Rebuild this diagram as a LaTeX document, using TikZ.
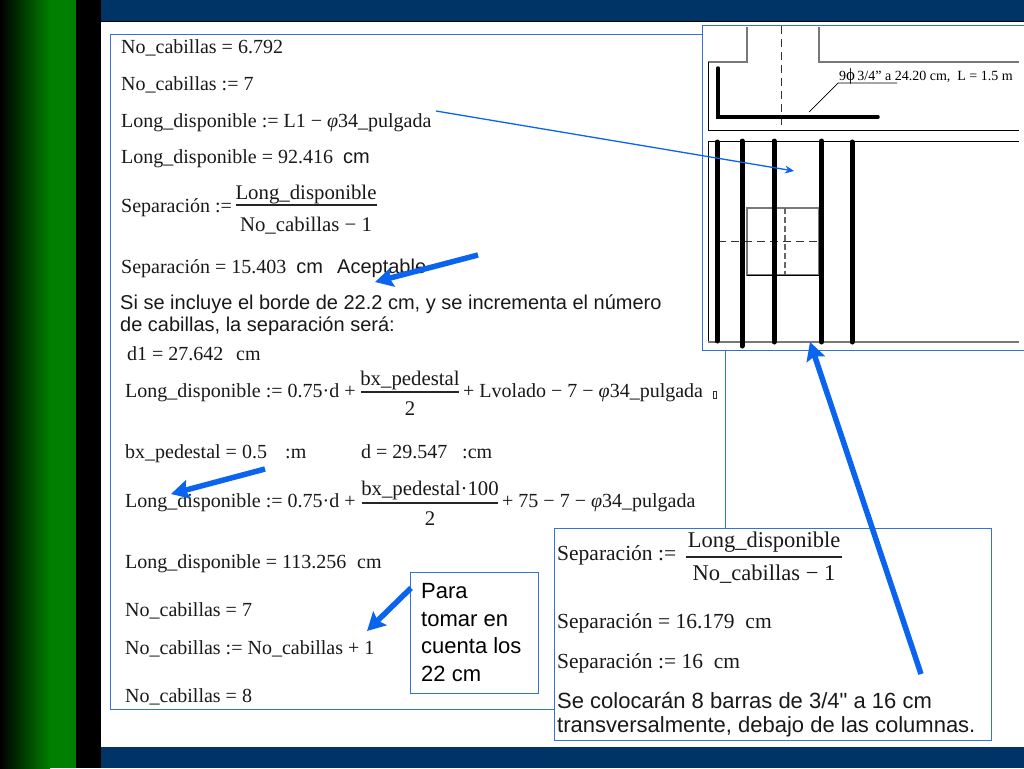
\documentclass[tikz,border=0pt]{standalone}
\usepackage{fontspec}
\setmainfont{Liberation Serif}
\newfontfamily\arialf{Liberation Sans}
\usetikzlibrary{arrows.meta}
\definecolor{navybar}{RGB}{0,51,102}
\definecolor{greenbar}{RGB}{0,128,0}
\definecolor{frameblue}{RGB}{50,115,215}
\definecolor{arrowblue}{RGB}{10,100,240}
\definecolor{graybar}{RGB}{120,120,120}
\newcommand{\fphi}{{\itshape φ}}
\tikzset{
  x=1pt,y=-1pt,
  mathtxt/.style={anchor=base west,inner sep=0pt,font=\fontsize{20}{22}\selectfont,text=black!90},
  ctr/.style={mathtxt,anchor=base,font=\fontsize{20.8}{22}\selectfont},
  boxmath/.style={mathtxt,font=\fontsize{21.5}{24}\selectfont},
  boxctr/.style={mathtxt,anchor=base,font=\fontsize{22.5}{24}\selectfont},
  sanstxt/.style={anchor=base west,inner sep=0pt,font=\arialf\fontsize{20}{22}\selectfont,text=black!90},
  boxsans/.style={sanstxt,font=\arialf\fontsize{22}{24}\selectfont},
  noteTxt/.style={anchor=base west,inner sep=0pt,font=\arialf\fontsize{22}{24}\selectfont,text=black},
  framebox/.style={draw=frameblue,line width=1pt,fill=white},
  thinarrow/.style={draw=arrowblue,line width=1.3pt,-{Stealth[length=9pt,width=8pt]}},
  thickarrow/.style={draw=arrowblue,line width=5.5pt,-{Stealth[length=18pt,width=19pt,inset=3pt]}},
  barline/.style={line width=1.2pt,black!85},
  rebar/.style={line width=5pt,black,line cap=round},
  grayline/.style={line width=1.5pt,graybar},
  blackline/.style={line width=1pt,black},
  dashline/.style={line width=1pt,black!80,dash pattern=on 8pt off 5pt},
}
\begin{document}
\begin{tikzpicture}
\useasboundingbox (0,0) rectangle (1024,768);
% background
\fill[white] (0,0) rectangle (1024,768);
\shade[left color=black,right color=greenbar,shading angle=90] (0,0) rectangle (50,768);
\fill[greenbar] (50,0) rectangle (76,768);
\fill[black] (76,0) rectangle (101,768);
\fill[navybar] (101,0) rectangle (1024,21);
\fill[navybar] (101,747) rectangle (1024,768);
\draw[black,line width=1pt] (101,21.5) -- (1024,21.5);
% main frame
\node[framebox,minimum width=615pt,minimum height=675pt,anchor=north west,inner sep=0pt] (mainbox) at (110,34) {};
% main text
\node[mathtxt] (t1) at (121,53) {No\_cabillas = 6.792};
\node[mathtxt] (t2) at (121,90) {No\_cabillas := 7};
\node[mathtxt] (t3) at (121,127) {Long\_disponible := L1 − \fphi34\_pulgada};
\node[mathtxt] (t4) at (121,163) {Long\_disponible = 92.416 \ {\arialf cm}};
\node[mathtxt] (t5) at (121,212) {Separación :=};
\node[ctr] (t5n) at (306,199) {Long\_disponible};
\node[ctr] (t5d) at (306,231) {No\_cabillas − 1};
\draw[barline] (236,205) -- (377,205);
\node[mathtxt] (t6) at (121,273) {Separación = 15.403 \ {\arialf cm}};
\node[sanstxt] (t6b) at (337,273) {Aceptable};
\node[sanstxt] (t7) at (120,309) {Si se incluye el borde de 22.2 cm, y se incrementa el número};
\node[sanstxt] (t8) at (120,331) {de cabillas, la separación será:};
\node[mathtxt] (t9) at (127,360) {d1 = 27.642};
\node[mathtxt] (t9b) at (236,360) {cm};
\node[mathtxt] (t10) at (125,397) {Long\_disponible := 0.75·d +};
\node[ctr] (t10n) at (410,385) {bx\_pedestal};
\node[ctr] (t10d) at (410,415) {2};
\draw[barline] (361,392) -- (459,392);
\node[mathtxt] (t10b) at (463,397) {+ Lvolado − 7 − \fphi34\_pulgada};
\draw[line width=.6pt,black!80] (713,391) rectangle (716,398);
\node[mathtxt] (t11) at (125,458) {bx\_pedestal = 0.5};
\node[mathtxt] (t11b) at (285,458) {:m};
\node[mathtxt] (t11c) at (361,458) {d = 29.547};
\node[mathtxt] (t11d) at (462,458) {:cm};
\node[mathtxt] (t12) at (125,507) {Long\_disponible := 0.75·d +};
\node[ctr] (t12n) at (430,495) {bx\_pedestal·100};
\node[ctr] (t12d) at (430,525) {2};
\draw[barline] (362,503) -- (498,503);
\node[mathtxt] (t12b) at (502,507) {+ 75 − 7 − \fphi34\_pulgada};
\node[mathtxt] (t13) at (125,568) {Long\_disponible = 113.256};
\node[mathtxt] (t13b) at (357,568) {cm};
\node[mathtxt] (t14) at (125,616) {No\_cabillas = 7};
\node[mathtxt] (t15) at (125,654) {No\_cabillas := No\_cabillas + 1};
\node[mathtxt] (t16) at (125,702) {No\_cabillas = 8};
% note box
\node[framebox,minimum width=128pt,minimum height=121pt,anchor=north west,inner sep=0pt] (notebox) at (410,572) {};
\node[noteTxt] (n1) at (421,598) {Para};
\node[noteTxt] (n2) at (421,626) {tomar en};
\node[noteTxt] (n3) at (421,653) {cuenta los};
\node[noteTxt] (n4) at (421,681) {22 cm};
% right-bottom box
\node[framebox,minimum width=437pt,minimum height=212pt,anchor=north west,inner sep=0pt] (sepbox) at (554,528) {};
\node[boxmath] (s1) at (557,560) {Separación :=};
\node[boxctr] (s1n) at (764,547) {Long\_disponible};
\node[boxctr] (s1d) at (764,580) {No\_cabillas − 1};
\draw[barline] (686,557) -- (842,557);
\node[boxmath] (s2) at (557,628) {Separación = 16.179 \ cm};
\node[boxmath] (s3) at (557,668) {Separación := 16 \ cm};
\node[boxsans] (s4) at (557,708) {Se colocarán 8 barras de 3/4" a 16 cm};
\node[boxsans] (s5) at (557,732) {transversalmente, debajo de las columnas.};
% drawing frame
\node[framebox,minimum width=330pt,minimum height=325pt,anchor=north west,inner sep=0pt] (drawbox) at (702,25) {};
% section view
\draw[grayline] (747,27) -- (747,62) -- (708,62);
\draw[grayline] (819,27) -- (819,62) -- (1019,62);
\draw[blackline] (708,62) -- (708,130) -- (1019,130);
\draw[dashline] (781,26) -- (781,130);
\draw[line width=3.5pt,black,line cap=round,line join=miter] (718,68) -- (718,117) -- (878,117);
\draw[line width=.7pt,black] (809,112) -- (838,83) -- (897,83);
\node[anchor=base west,inner sep=0pt,font=\fontsize{14}{16}\selectfont] (lbl) at (839,81) {9{\fontsize{17}{17}\selectfont ϕ}\,3/4" a 24.20 cm, \ L = 1.5 m};
% plan view
\draw[blackline] (708,342) -- (708,141) -- (1019,141);
\draw[line width=2pt,graybar] (708,342) -- (1019,342);
\draw[grayline] (747,208) rectangle (819,275);
\draw[black,line width=1pt] (747,275) -- (819,275);
\draw[dashline] (718,241.5) -- (819,241.5);
\draw[line width=1.2pt,black!60,dash pattern=on 6pt off 3pt] (785,208) -- (785,275);
\foreach \bx/\ya/\yb in {717/142/341,742/141/346,774/141/342,821.5/141/342,852/142/342}
  \draw[rebar] (\bx,\ya) -- (\bx,\yb);
% arrows
\coordinate (a1s) at (436,111); \coordinate (a1e) at (794,171);
\coordinate (a2s) at (478,255); \coordinate (a2e) at (375,282);
\coordinate (a3s) at (265,469); \coordinate (a3e) at (171,494);
\coordinate (a4s) at (411,588); \coordinate (a4e) at (367,631);
\coordinate (a5s) at (921,674); \coordinate (a5e) at (810,342);
\draw[thinarrow] (a1s) -- (a1e);
\draw[thickarrow] (a2s) -- (a2e);
\draw[thickarrow] (a3s) -- (a3e);
\draw[thickarrow] (a4s) -- (a4e);
\draw[thickarrow] (a5s) -- (a5e);
\end{tikzpicture}
\end{document}
